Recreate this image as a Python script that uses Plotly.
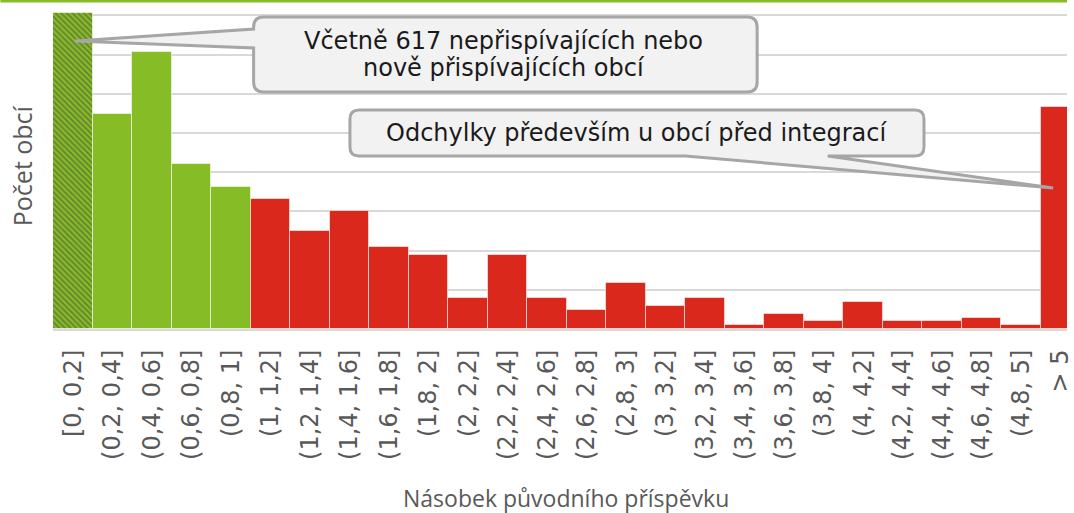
import plotly.graph_objects as go

# ---- data ----
categories = ["[0, 0,2]", "(0,2, 0,4]", "(0,4, 0,6]", "(0,6, 0,8]", "(0,8, 1]",
              "(1, 1,2]", "(1,2, 1,4]", "(1,4, 1,6]", "(1,6, 1,8]", "(1,8, 2]",
              "(2, 2,2]", "(2,2, 2,4]", "(2,4, 2,6]", "(2,6, 2,8]", "(2,8, 3]",
              "(3, 3,2]", "(3,2, 3,4]", "(3,4, 3,6]", "(3,6, 3,8]", "(3,8, 4]",
              "(4, 4,2]", "(4,2, 4,4]", "(4,4, 4,6]", "(4,6, 4,8]", "(4,8, 5]",
              "> 5"]
counts = [805, 549, 707, 420, 362, 331, 251, 300, 210, 190,
          80, 190, 80, 49, 118, 59, 80, 10, 38, 20,
          69, 20, 20, 28, 10, 566]
n_green = 5  # bins up to 1x are green, the rest red
GREEN = "#86BC25"
RED = "#DA291C"

colors = [GREEN if i < n_green else RED for i in range(len(categories))]
patterns = ["\\" if i == 0 else "" for i in range(len(categories))]

W, H = 1074, 513
L, R, T, B = 53, 0, 5, 184
PW, PH = W - L - R, H - T - B


def px(x):
    return (x - L) / PW


def py(y):
    return (H - B - y) / PH


fig = go.Figure()
fig.add_trace(go.Bar(
    x=list(range(len(categories))), y=counts,
    marker=dict(color=colors,
                line=dict(color="rgba(255,255,255,0.55)", width=1),
                pattern=dict(shape=patterns, fgcolor="#4e8f6a", size=4, solidity=0.45)),
    hoverinfo="skip",
))


def rounded_box_with_tip(x0, y0, x1, y1, r, tip_side, a, b, tip):
    path = f"M {px(x0 + r)},{py(y0)} "
    segs = []
    segs.append(f"L {px(x1 - r)},{py(y0)}")
    segs.append(f"Q {px(x1)},{py(y0)} {px(x1)},{py(y0 + r)}")
    segs.append(f"L {px(x1)},{py(y1 - r)}")
    segs.append(f"Q {px(x1)},{py(y1)} {px(x1 - r)},{py(y1)}")
    if tip_side == "bottom":
        segs.append(f"L {px(b)},{py(y1)}")
        segs.append(f"L {px(tip[0])},{py(tip[1])}")
        segs.append(f"L {px(a)},{py(y1)}")
    segs.append(f"L {px(x0 + r)},{py(y1)}")
    segs.append(f"Q {px(x0)},{py(y1)} {px(x0)},{py(y1 - r)}")
    if tip_side == "left":
        segs.append(f"L {px(x0)},{py(b)}")
        segs.append(f"L {px(tip[0])},{py(tip[1])}")
        segs.append(f"L {px(x0)},{py(a)}")
    segs.append(f"L {px(x0)},{py(y0 + r)}")
    segs.append(f"Q {px(x0)},{py(y0)} {px(x0 + r)},{py(y0)}")
    return path + " ".join(segs) + " Z"


shapes = [
    # green band at top of the page
    dict(type="rect", xref="paper", yref="paper", x0=px(0), x1=px(W),
         y0=py(2.5), y1=py(-5), fillcolor=GREEN, line=dict(width=0), layer="above"),
    dict(type="path", xref="paper", yref="paper",
         path=rounded_box_with_tip(255, 17, 762, 92, 10, "left", 29, 48, (75, 41)),
         fillcolor="#F2F2F2", line=dict(color="#A6A6A6", width=3), layer="above"),
    dict(type="path", xref="paper", yref="paper",
         path=rounded_box_with_tip(352, 110, 930, 156, 9, "bottom", 690, 833, (1060, 188)),
         fillcolor="#F2F2F2", line=dict(color="#A6A6A6", width=3), layer="above"),
]

ann_font = dict(family="DejaVu Sans", size=24, color="#1A1A1A")
annotations = [
    dict(xref="paper", yref="paper", x=px(507), y=py(41),
         text="Včetně 617 nepřispívajících nebo", height=26, valign="middle",
         showarrow=False, xanchor="center", yanchor="middle", font=ann_font),
    dict(xref="paper", yref="paper", x=px(507), y=py(68),
         text="nově přispívajících obcí", height=26, valign="middle",
         showarrow=False, xanchor="center", yanchor="middle", font=ann_font),
    dict(xref="paper", yref="paper", x=px(641), y=py(133),
         text="Odchylky především u obcí před integrací",
         showarrow=False, xanchor="center", yanchor="middle", font=ann_font),
    dict(xref="paper", yref="paper", x=px(22), y=py(166),
         text="Počet obcí", textangle=-90, showarrow=False,
         xanchor="center", yanchor="middle",
         font=dict(family="Open Sans", size=25, color="#595959")),
    dict(xref="paper", yref="paper", x=px(570), y=py(498),
         text="Násobek původního příspěvku", showarrow=False,
         xanchor="center", yanchor="middle",
         font=dict(family="Open Sans", size=23, color="#595959")),
]

fig.update_layout(
    width=W, height=H,
    margin=dict(l=L, r=R, t=T, b=B, pad=0),
    paper_bgcolor="white", plot_bgcolor="white",
    bargap=0, showlegend=False,
    shapes=shapes, annotations=annotations,
    xaxis=dict(
        tickmode="array", tickvals=list(range(len(categories))), ticktext=categories,
        range=[-0.5, -0.5 + PW / 39.78], tickangle=-90,
        tickfont=dict(family="DejaVu Sans", size=24, color="#595959"),
        ticks="outside", ticklen=9, tickcolor="rgba(0,0,0,0)",
        ticklabeloverflow="allow",
        showgrid=False, showline=True, linecolor="#D9D9D9", linewidth=2,
        zeroline=False,
    ),
    yaxis=dict(
        range=[0, PH / 39.2 * 100], dtick=100, showticklabels=False,
        showgrid=True, gridcolor="#D9D9D9", gridwidth=2, zeroline=False,
        ticks="",
    ),
)

fig.write_html("out.html", config={"displayModeBar": False},
               post_script="document.body.style.margin='0';document.body.style.overflow='hidden';")
